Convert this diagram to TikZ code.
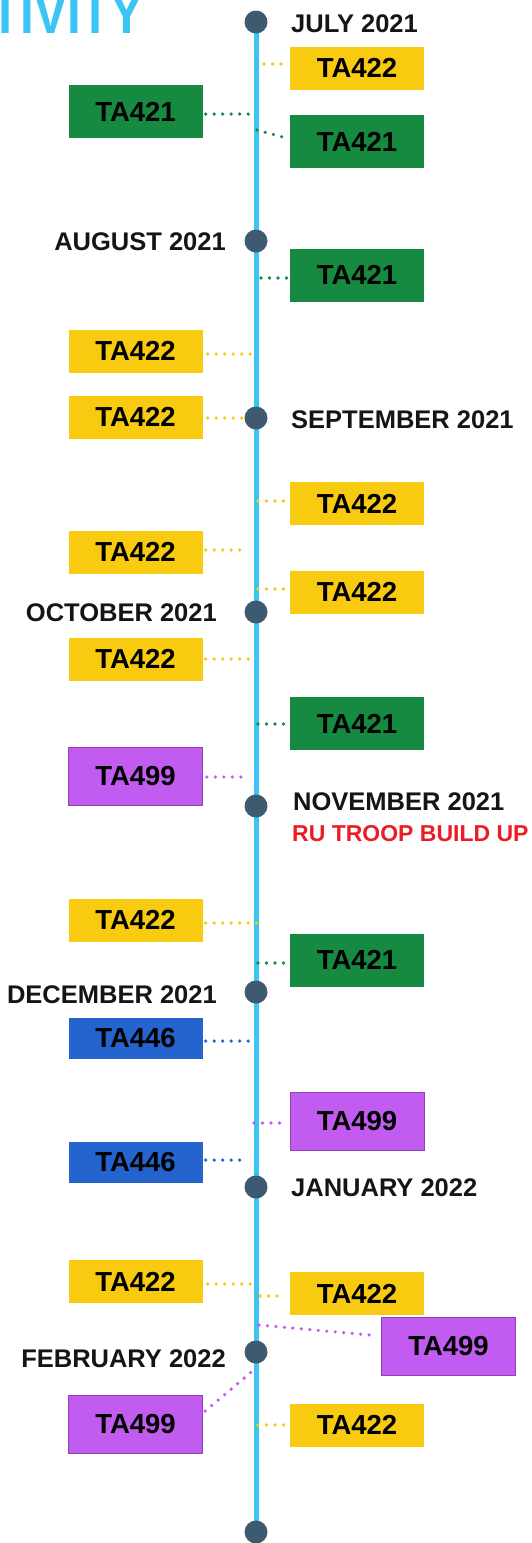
\documentclass[tikz,border=0pt]{standalone}
\usepackage{fontspec}
\usepackage{graphicx}
\usetikzlibrary{backgrounds}
\newfontfamily\lsans{Liberation Sans}
\definecolor{tlblue}{HTML}{3CC4F4}
\definecolor{cdot}{HTML}{3D5A70}
\definecolor{cyel}{HTML}{F8CA10}
\definecolor{cgrn}{HTML}{168A40}
\definecolor{cpur}{HTML}{C25CF0}
\definecolor{cpurd}{HTML}{8E44B0}
\definecolor{cblu}{HTML}{2464CF}
\definecolor{cmon}{HTML}{151515}
\definecolor{cred}{HTML}{EC1C24}
\tikzset{
  tabox/.style={rectangle, inner sep=0pt, minimum width=134pt, text=black,
    font=\lsans\bfseries\fontsize{27.5}{30}\selectfont},
  yel/.style={tabox, fill=cyel, minimum height=43pt},
  grn/.style={tabox, fill=cgrn, minimum height=53pt},
  pur/.style={tabox, fill=cpur, draw=cpurd, line width=0.8pt, minimum height=58pt},
  blu/.style={tabox, fill=cblu, minimum height=41pt},
  month/.style={inner sep=0pt, text=cmon, font=\lsans\bfseries\fontsize{25.5}{30}\selectfont},
  dotnode/.style={circle, fill=cdot, minimum size=23pt, inner sep=0pt},
  conn/.style={line width=3.6pt, dash pattern=on 0pt off 8.5pt, line cap=round},
  tline/.style={line width=5pt, tlblue},
}
\begin{document}
\begin{tikzpicture}[x=1pt,y=-1pt]
\useasboundingbox (0,0) rectangle (531,1543);
\clip (0,0) rectangle (531,1543);

% title (cut off at the top edge, as in the reference)
\node[anchor=base east, inner sep=0pt, text=tlblue] (title) at (144,33)
  {\scalebox{0.85}[1]{\lsans\bfseries\fontsize{58}{60}\selectfont ACTIVITY}};

% timeline dots
\node[dotnode] (d1) at (256,22) {};
\node[dotnode] (d2) at (256,241) {};
\node[dotnode] (d3) at (256,418) {};
\node[dotnode] (d4) at (256,612) {};
\node[dotnode] (d5) at (256,806) {};
\node[dotnode] (d6) at (256,992) {};
\node[dotnode] (d7) at (256,1187) {};
\node[dotnode] (d8) at (256,1352) {};
\node[dotnode] (d9) at (256,1532) {};
\begin{pgfonlayer}{background}
\fill[white] (0,0) rectangle (531,1543);
\draw[tline] (d1.center) -- (d9.center);
\end{pgfonlayer}

% month labels
\node[month, anchor=west] (m1) at (291,23.5) {JULY 2021};
\node[month, anchor=east] (m2) at (226,242) {AUGUST 2021};
\node[month, anchor=west] (m3) at (291,420) {SEPTEMBER 2021};
\node[month, anchor=east] (m4) at (217,613) {OCTOBER 2021};
\node[month, anchor=west] (m5) at (293,802) {NOVEMBER 2021};
\node[inner sep=0pt, anchor=west, text=cred, font=\lsans\bfseries\fontsize{23}{26}\selectfont] (m5b) at (292,834) {RU TROOP BUILD UP};
\node[month, anchor=east] (m6) at (217,995) {DECEMBER 2021};
\node[month, anchor=west] (m7) at (291,1188) {JANUARY 2022};
\node[month, anchor=east] (m8) at (226,1359) {FEBRUARY 2022};

% boxes
\node[yel] (b1) at (357,68) {TA422};
\node[grn] (b2) at (135.5,111.5) {TA421};
\node[grn] (b3) at (357,141.5) {TA421};
\node[grn] (b4) at (357,275) {TA421};
\node[yel] (b5) at (135.5,351) {TA422};
\node[yel] (b6) at (135.5,417) {TA422};
\node[yel] (b7) at (357,503.5) {TA422};
\node[yel] (b8) at (135.5,552) {TA422};
\node[yel] (b9) at (357,592) {TA422};
\node[yel] (b10) at (135.5,659) {TA422};
\node[grn] (b11) at (357,723.5) {TA421};
\node[pur] (b12) at (135.5,776.5) {TA499};
\node[yel] (b13) at (135.5,920) {TA422};
\node[grn] (b14) at (357,960) {TA421};
\node[blu] (b15) at (135.5,1038.5) {TA446};
\node[pur] (b16) at (357,1121) {TA499};
\node[blu] (b17) at (135.5,1162.5) {TA446};
\node[yel] (b18) at (135.5,1281.5) {TA422};
\node[yel] (b19) at (357,1293.5) {TA422};
\node[pur] (b20) at (448.5,1346) {TA499};
\node[pur] (b21) at (135.5,1424) {TA499};
\node[yel] (b22) at (357,1425) {TA422};

% connector ends on the timeline
\coordinate (k1) at (264,64);
\coordinate (k2) at (251,114);
\coordinate (k3) at (257,130);
\coordinate (k4) at (261,278);
\coordinate (k5) at (251,354);
\coordinate (k6) at (245,418);
\coordinate (k7) at (258,501);
\coordinate (k8) at (247,550);
\coordinate (k9) at (258,589);
\coordinate (k10) at (256,659);
\coordinate (k11) at (258,724);
\coordinate (k12) at (248,777);
\coordinate (k13) at (257,923);
\coordinate (k14) at (258,963);
\coordinate (k15) at (256,1041);
\coordinate (k16) at (254,1123);
\coordinate (k17) at (247,1160);
\coordinate (k18) at (251,1284);
\coordinate (k19) at (260,1296);
\coordinate (k20) at (259,1325);
\coordinate (k21) at (256,1368);
\coordinate (k22) at (258,1425);

% connectors
\draw[conn,cyel,shorten >=3pt] (k1) -- (k1 -| b1.west);
\draw[conn,cgrn,shorten <=3pt] (k2 -| b2.east) -- (k2);
\draw[conn,cgrn,shorten >=3pt] (k3) -- ([yshift=2.5pt]b3.west);
\draw[conn,cgrn,shorten >=2pt] (k4) -- (k4 -| b4.west);
\draw[conn,cyel,shorten <=5pt] (k5 -| b5.east) -- (k5);
\draw[conn,cyel,shorten <=5pt] (k6 -| b6.east) -- (k6);
\draw[conn,cyel,shorten >=3pt] (k7) -- (k7 -| b7.west);
\draw[conn,cyel,shorten <=3pt] (k8 -| b8.east) -- (k8);
\draw[conn,cyel,shorten >=3pt] (k9) -- (k9 -| b9.west);
\draw[conn,cyel,shorten <=3pt] (k10 -| b10.east) -- (k10);
\draw[conn,cgrn,shorten >=3pt] (k11) -- (k11 -| b11.west);
\draw[conn,cpur,shorten <=4pt] (k12 -| b12.east) -- (k12);
\draw[conn,cyel,shorten <=3pt] (k13 -| b13.east) -- (k13);
\draw[conn,cgrn,shorten >=3pt] (k14) -- (k14 -| b14.west);
\draw[conn,cblu,shorten <=3pt] (k15 -| b15.east) -- (k15);
\draw[conn,cpur,shorten >=4pt] (k16) -- (k16 -| b16.west);
\draw[conn,cblu,shorten <=3pt] (k17 -| b17.east) -- (k17);
\draw[conn,cyel,shorten <=5pt] (k18 -| b18.east) -- (k18);
\draw[conn,cyel,shorten >=7pt] (k19) -- (k19 -| b19.west);
\draw[conn,cpur,shorten >=4pt] (k20) -- ([yshift=10pt]b20.west);
\draw[conn,cpur,shorten <=3pt] ([yshift=11pt]b21.east) -- (k21);
\draw[conn,cyel,shorten >=3pt] (k22) -- (k22 -| b22.west);
\end{tikzpicture}
\end{document}
